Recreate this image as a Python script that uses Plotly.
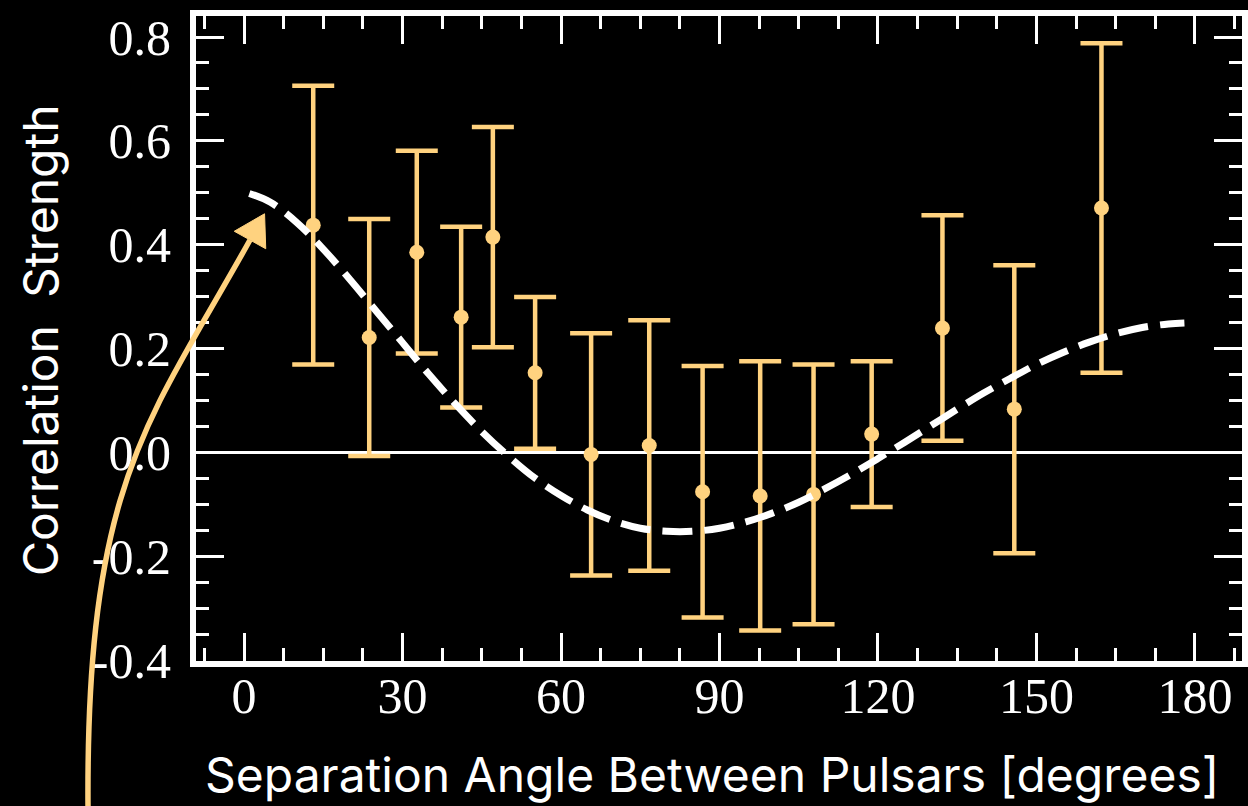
import plotly.graph_objects as go

# Binned cross-correlations of pulsar pairs vs. angular separation
sep_angle = [13.1, 23.7, 32.7, 41.1, 47.1, 55.1, 65.7, 76.7, 86.8, 97.7, 107.8, 118.8, 132.2, 145.8, 162.3]
corr = [0.438, 0.222, 0.386, 0.261, 0.415, 0.154, -0.003, 0.014, -0.075, -0.083, -0.080, 0.036, 0.240, 0.084, 0.471]
corr_err = [0.268, 0.228, 0.195, 0.174, 0.212, 0.146, 0.233, 0.241, 0.242, 0.259, 0.250, 0.140, 0.217, 0.277, 0.317]

# Expected correlation curve (dashed), sampled along the separation angle
hd_angle = [1, 5, 10, 15, 20, 25, 30, 35, 40, 45, 50, 55, 60, 65, 70, 75, 80, 85, 90,
            95, 100, 105, 110, 115, 120, 125, 130, 135, 140, 145, 150, 155, 160, 165,
            170, 175, 178]
hd_corr = [0.499, 0.482, 0.443, 0.392, 0.334, 0.273, 0.212, 0.151, 0.094, 0.041, -0.006,
           -0.048, -0.082, -0.110, -0.131, -0.145, -0.151, -0.151, -0.145, -0.133, -0.116,
           -0.095, -0.069, -0.041, -0.011, 0.020, 0.052, 0.084, 0.115, 0.143, 0.170, 0.193,
           0.213, 0.229, 0.241, 0.248, 0.250]

x_ticks = [0, 30, 60, 90, 120, 150, 180]
y_ticks = [-0.4, -0.2, 0.0, 0.2, 0.4, 0.6, 0.8]
y_tick_text = ["-0.4", "-0.2", "0.0", "0.2", "0.4", "0.6", "0.8"]

ORANGE = "#FFD27F"
WHITE = "#FFFFFF"
W, H = 1248, 806
M_L, M_R, M_T, M_B = 196, 6, 16, 145

fig = go.Figure()

fig.add_trace(go.Scatter(
    x=sep_angle, y=corr, mode="markers",
    marker=dict(color=ORANGE, size=15),
    error_y=dict(type="data", array=corr_err, visible=True,
                 color=ORANGE, thickness=4.5, width=21),
    showlegend=False, hoverinfo="skip",
))

fig.add_trace(go.Scatter(
    x=hd_angle, y=hd_corr, mode="lines",
    line=dict(color=WHITE, width=7, dash="30px,12px", shape="spline"),
    showlegend=False, hoverinfo="skip",
))

# Curved pointer arrow, laid out in page pixels and converted to paper units
plot_w = W - M_L - M_R
plot_h = H - M_T - M_B


def to_paper(px, py):
    return (px - M_L) / plot_w, (H - M_B - py) / plot_h


arrow_pts = [(88, 806), (86, 480), (150, 420), (250, 240)]
p = [to_paper(*pt) for pt in arrow_pts]
arrow_path = "M {:.5f},{:.5f} C {:.5f},{:.5f} {:.5f},{:.5f} {:.5f},{:.5f}".format(
    *p[0], *p[1], *p[2], *p[3])

bx, by = arrow_pts[3]
vx, vy = bx - arrow_pts[2][0], by - arrow_pts[2][1]
vn = (vx ** 2 + vy ** 2) ** 0.5
dx, dy = vx / vn, vy / vn
nx, ny = -dy, dx
head_len, head_half = 30, 18
tip = to_paper(bx + head_len * dx, by + head_len * dy)
c1 = to_paper(bx + head_half * nx, by + head_half * ny)
c2 = to_paper(bx - head_half * nx, by - head_half * ny)
head_path = "M {:.5f},{:.5f} L {:.5f},{:.5f} L {:.5f},{:.5f} Z".format(*tip, *c1, *c2)

fig.add_shape(type="path", path=arrow_path, xref="paper", yref="paper",
              line=dict(color=ORANGE, width=5.5), layer="above")
fig.add_shape(type="path", path=head_path, xref="paper", yref="paper",
              line=dict(color=ORANGE, width=1), fillcolor=ORANGE, layer="above")

fig.add_annotation(
    text="Separation Angle Between Pulsars [degrees]",
    xref="paper", yref="paper", x=(712 - M_L) / plot_w, y=(H - M_B - 774) / plot_h,
    xanchor="center", yanchor="middle", showarrow=False,
    font=dict(family="Inter", size=48, color=WHITE),
)
fig.add_annotation(
    text="Correlation\u00a0\u00a0Strength",
    xref="paper", yref="paper", x=(40 - M_L) / plot_w, y=(H - M_B - 340) / plot_h,
    xanchor="center", yanchor="middle", textangle=-90, showarrow=False,
    font=dict(family="Inter", size=48, color=WHITE),
)

axis_common = dict(
    showgrid=False, showline=True, linecolor=WHITE, linewidth=6, mirror="allticks",
    ticks="inside", ticklen=28, tickwidth=3, tickcolor=WHITE,
    tickfont=dict(family="Liberation Serif", size=50, color=WHITE),
)

fig.update_xaxes(
    range=[-9.09, 188.9], tickvals=x_ticks, zeroline=False,
    minor=dict(dtick=7.5, tick0=0, ticks="inside", ticklen=13, tickwidth=3, tickcolor=WHITE),
    ticklabelstandoff=-14,
    **axis_common,
)
fig.update_yaxes(
    range=[-0.4005, 0.8404], tickvals=y_ticks, ticktext=y_tick_text,
    zeroline=True, zerolinecolor=WHITE, zerolinewidth=3,
    minor=dict(dtick=0.05, tick0=0, ticks="inside", ticklen=13, tickwidth=3, tickcolor=WHITE),
    ticklabelstandoff=9,
    **axis_common,
)

fig.update_layout(
    width=W, height=H,
    margin=dict(l=M_L, r=M_R, t=M_T, b=M_B, autoexpand=False),
    paper_bgcolor="black", plot_bgcolor="black",
    showlegend=False,
)

fig.write_html("out.html")
